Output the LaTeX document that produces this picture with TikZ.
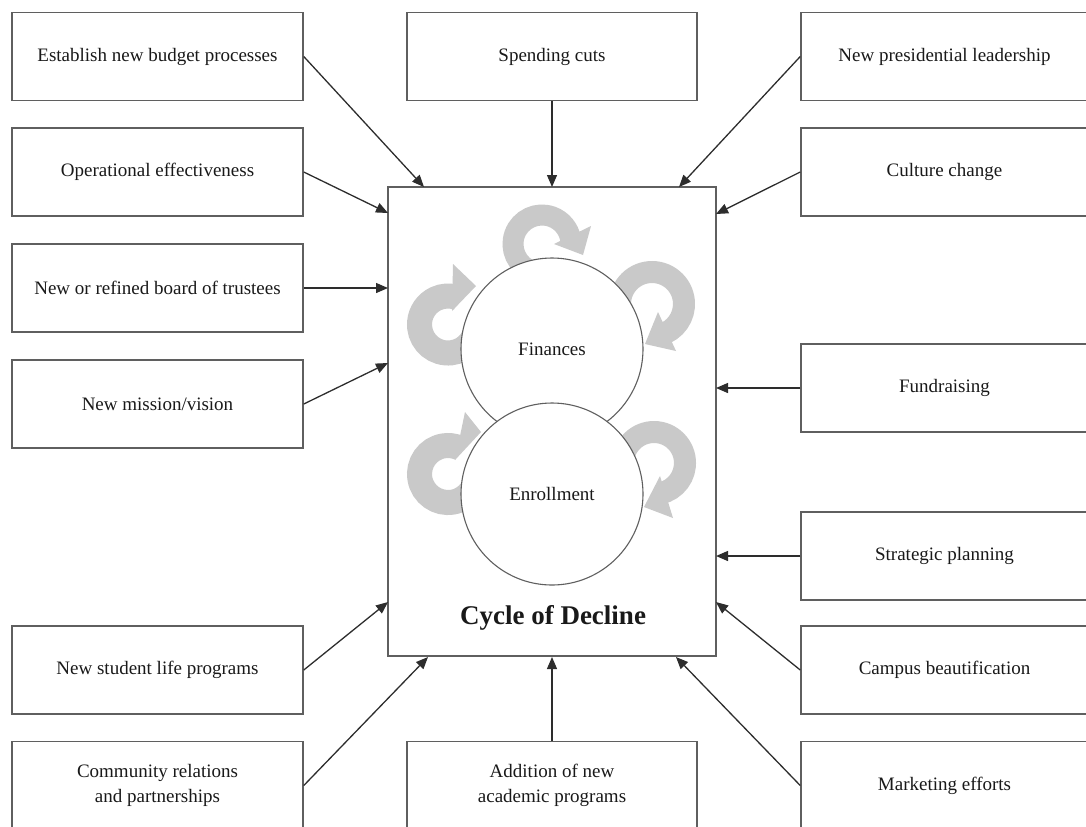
\documentclass[tikz,border=0pt]{standalone}
\usepackage{fontspec}
\setmainfont{Liberation Serif}
\usetikzlibrary{arrows.meta}
\definecolor{ringgray}{RGB}{201,201,201}
\definecolor{boxline}{RGB}{95,95,95}
\definecolor{conline}{RGB}{45,45,45}
\definecolor{txt}{RGB}{25,25,25}
\begin{document}
\begin{tikzpicture}[x=0.5pt,y=-0.5pt,
  box/.style={draw=boxline, line width=0.75pt, fill=white, inner sep=0pt, align=center,
    font=\fontsize{9.5}{12.5}\selectfont, text=txt, minimum height=44pt},
  lbox/.style={box, minimum width=145.5pt},
  mbox/.style={box, minimum width=145pt},
  rbox/.style={box, minimum width=143.5pt},
  conn/.style={draw=conline, line width=0.65pt, -{Triangle[length=6pt,width=5pt]}},
  ring/.style={draw=ringgray, line width=#1},
  head/.style={fill=ringgray},
  circ/.style={circle, draw=boxline, line width=0.55pt, fill=white, minimum size=91pt,
    inner sep=0pt, font=\fontsize{9.5}{12.5}\selectfont, text=txt}
]
\useasboundingbox (0,0) rectangle (1086,826);
\clip (0,0) rectangle (1086,826);

% central box
\node[draw=boxline, line width=0.75pt, fill=white, minimum width=164pt, minimum height=234.5pt, inner sep=0pt] (cyc) at (552,421.5) {};

% circular arrows
\draw[ring=10.5pt] (542,244) ++(-250:29) arc[start angle=-250, end angle=-10, radius=29];
\fill[head] (591,226) -- (554,244) -- (583,255) -- cycle;

\draw[ring=11pt] (652,304) ++(-185:32) arc[start angle=-185, end angle=75, radius=32];
\fill[head] (658,312) -- (676,351) -- (645,344) -- cycle;

\draw[ring=12.5pt] (448,324.5) ++(-355:28.5) arc[start angle=-355, end angle=-72, radius=28.5];
\fill[head] (453,264) -- (452,311) -- (476,286) -- cycle;

\draw[ring=12.5pt] (448,474) ++(-10:28.5) arc[start angle=-10, end angle=294, radius=28.5];
\fill[head] (465,412) -- (455,460) -- (481,432) -- cycle;

\draw[ring=11pt] (654,463) ++(-185:31) arc[start angle=-185, end angle=78, radius=31];
\fill[head] (660,476) -- (673,518) -- (644,507) -- cycle;

% circles
\node[circ] (fin) at (552,349) {Finances};
\node[circ] (enr) at (552,494) {Enrollment};
\node[font=\fontsize{13.5}{16}\selectfont\bfseries, text=txt] (title) at (553,618) {Cycle of Decline};

% left boxes
\node[lbox] (l1) at (157.5,56.5) {Establish new budget processes};
\node[lbox] (l2) at (157.5,172) {Operational effectiveness};
\node[lbox] (l3) at (157.5,288) {New or refined board of trustees};
\node[lbox] (l4) at (157.5,404) {New mission/vision};
\node[lbox] (l5) at (157.5,670) {New student life programs};
\node[lbox] (l6) at (157.5,785.5) {Community relations\\and partnerships};

% middle boxes
\node[mbox] (m1) at (552,56.5) {Spending cuts};
\node[mbox] (m2) at (552,785.5) {Addition of new\\academic programs};

% right boxes
\node[rbox] (r1) at (944.5,56.5) {New presidential leadership};
\node[rbox] (r2) at (944.5,172) {Culture change};
\node[rbox] (r3) at (944.5,388) {Fundraising};
\node[rbox] (r4) at (944.5,556) {Strategic planning};
\node[rbox] (r5) at (944.5,670) {Campus beautification};
\node[rbox] (r6) at (944.5,785.5) {Marketing efforts};

% connector end points on the central box
\coordinate (e1) at (424,187);
\coordinate (e2) at (388,213);
\coordinate (e3) at (388,288);
\coordinate (e4) at (388,363);
\coordinate (e5) at (388,602);
\coordinate (e6) at (428,657);
\coordinate (e7) at (552,187);
\coordinate (e8) at (552,657);
\coordinate (e9) at (679,187);
\coordinate (e10) at (716,214);
\coordinate (e11) at (716,388);
\coordinate (e12) at (716,556);
\coordinate (e13) at (716,602);
\coordinate (e14) at (676,657);

\draw[conn] (l1.east) -- (e1);
\draw[conn] (l2.east) -- (e2);
\draw[conn] (l3.east) -- (e3);
\draw[conn] (l4.east) -- (e4);
\draw[conn] (l5.east) -- (e5);
\draw[conn] (l6.east) -- (e6);
\draw[conn] (m1.south) -- (e7);
\draw[conn] (m2.north) -- (e8);
\draw[conn] (r1.west) -- (e9);
\draw[conn] (r2.west) -- (e10);
\draw[conn] (r3.west) -- (e11);
\draw[conn] (r4.west) -- (e12);
\draw[conn] (r5.west) -- (e13);
\draw[conn] (r6.west) -- (e14);
\end{tikzpicture}
\end{document}
